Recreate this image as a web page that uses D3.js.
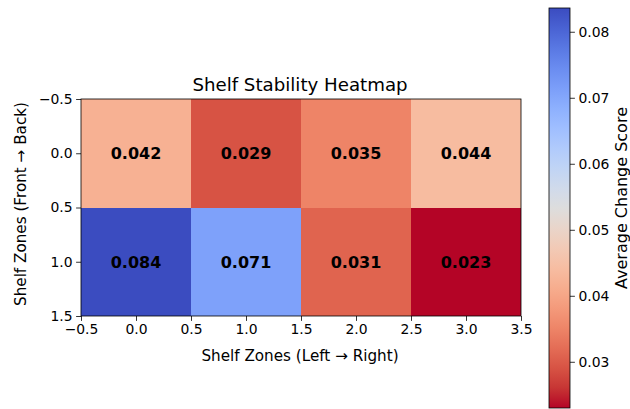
<!DOCTYPE html>
<html>
<head>
<meta charset="utf-8">
<script src="https://cdn.jsdelivr.net/npm/d3@7"></script>
<style>
  body { margin: 0; background: #fff; }
  text { font-family: "DejaVu Sans", sans-serif; fill: #000; }
</style>
</head>
<body>
<div id="chart"></div>
<script>
// Grid values, row by row (front row first).
const rows = [0, 1];
const cols = [0, 1, 2, 3];
const values = [
  [0.042, 0.029, 0.035, 0.044],
  [0.0836, 0.071, 0.031, 0.023]
];
const xTicks = [-0.5, 0.0, 0.5, 1.0, 1.5, 2.0, 2.5, 3.0, 3.5];
const yTicks = [-0.5, 0.0, 0.5, 1.0, 1.5];
const cbTicks = [0.03, 0.04, 0.05, 0.06, 0.07, 0.08];

// matplotlib coolwarm, sampled at 33 points.
const coolwarm = [
  [59,76,192],[68,90,204],[77,104,215],[87,117,225],[98,130,234],[108,142,241],
  [119,154,247],[130,165,251],[141,176,254],[152,185,255],[163,194,255],[174,201,253],
  [184,208,249],[194,213,244],[204,217,238],[213,219,230],[221,221,221],[229,216,209],
  [236,211,197],[241,204,184],[245,196,172],[247,187,159],[247,177,147],[247,166,134],
  [244,154,123],[241,141,111],[236,127,99],[229,112,88],[222,96,77],[213,80,66],
  [203,62,56],[192,40,47],[180,4,38]
].map(c => d3.rgb(c[0], c[1], c[2]));
const coolwarmInterp = d3.piecewise(d3.interpolateRgb, coolwarm);

const width = 630;
const height = 409;

const svg = d3.select('#chart')
  .append('svg')
  .attr('width', width)
  .attr('height', height);

// Heatmap area.
const x = d3.scaleLinear().domain([-0.5, 3.5]).range([81, 521]);
const y = d3.scaleLinear().domain([-0.5, 1.5]).range([99, 316]);

const flat = [].concat(...values);
const vmin = d3.min(flat);
const vmax = d3.max(flat);
// Reversed coolwarm: high values blue.
const color = v => coolwarmInterp(1 - (v - vmin) / (vmax - vmin));

const cells = [];
rows.forEach(r => cols.forEach(c => cells.push({ r, c, v: values[r][c] })));

svg.append('g')
  .selectAll('rect')
  .data(cells)
  .enter()
  .append('rect')
  .attr('x', d => x(d.c - 0.5))
  .attr('y', d => y(d.r - 0.5))
  .attr('width', d => x(d.c + 0.5) - x(d.c - 0.5))
  .attr('height', d => y(d.r + 0.5) - y(d.r - 0.5))
  .attr('fill', d => color(d.v))
  .attr('shape-rendering', 'crispEdges');

svg.append('g')
  .selectAll('text')
  .data(cells)
  .enter()
  .append('text')
  .attr('x', d => x(d.c))
  .attr('y', d => y(d.r))
  .attr('dy', '0.36em')
  .attr('text-anchor', 'middle')
  .style('font-size', '16px')
  .style('font-weight', 'bold')
  .text(d => d3.format('.3f')(d.v));

// Axes.
const xAxis = svg.append('g')
  .attr('transform', 'translate(0,316)')
  .call(d3.axisBottom(x).tickValues(xTicks).tickFormat(d3.format('.1f'))
    .tickSizeOuter(0).tickSize(4.9).tickPadding(3.5));
const yAxis = svg.append('g')
  .attr('transform', 'translate(81,0)')
  .call(d3.axisLeft(y).tickValues(yTicks).tickFormat(d3.format('.1f'))
    .tickSizeOuter(0).tickSize(4.9).tickPadding(3.5));
[xAxis, yAxis].forEach(a => {
  a.select('.domain').remove();
  a.selectAll('text').style('font-size', '13.9px').style('font-family', '"DejaVu Sans", sans-serif').attr('fill', '#000');
  a.selectAll('line').attr('stroke', '#000').attr('stroke-width', 0.8);
});

// Frame.
svg.append('rect')
  .attr('x', 81).attr('y', 99)
  .attr('width', 440).attr('height', 217)
  .attr('fill', 'none')
  .attr('stroke', '#000')
  .attr('stroke-width', 0.8);

svg.append('text')
  .attr('x', 300).attr('y', 91)
  .attr('text-anchor', 'middle')
  .style('font-size', '18.2px')
  .text('Shelf Stability Heatmap');

svg.append('text')
  .attr('x', 300).attr('y', 361)
  .attr('text-anchor', 'middle')
  .style('font-size', '15.2px')
  .text('Shelf Zones (Left \u2192 Right)');

svg.append('text')
  .attr('transform', 'translate(26,204) rotate(-90)')
  .attr('text-anchor', 'middle')
  .style('font-size', '15.2px')
  .text('Shelf Zones (Front \u2192 Back)');

// Colorbar.
const cb = d3.scaleLinear().domain([vmin, vmax]).range([408, 8]);
const defs = svg.append('defs');
const grad = defs.append('linearGradient')
  .attr('id', 'cbgrad')
  .attr('x1', 0).attr('y1', 1).attr('x2', 0).attr('y2', 0);
d3.range(0, 1.0001, 0.05).forEach(t => {
  grad.append('stop')
    .attr('offset', t)
    .attr('stop-color', coolwarmInterp(1 - t));
});
svg.append('rect')
  .attr('x', 549).attr('y', cb(vmax))
  .attr('width', 21).attr('height', cb(vmin) - cb(vmax))
  .attr('fill', 'url(#cbgrad)')
  .attr('stroke', '#000')
  .attr('stroke-width', 0.8);

const cbAxis = svg.append('g')
  .attr('transform', 'translate(570,0)')
  .call(d3.axisRight(cb).tickValues(cbTicks).tickFormat(d3.format('.2f'))
    .tickSizeOuter(0).tickSize(4.9).tickPadding(3.5));
cbAxis.select('.domain').remove();
cbAxis.selectAll('text').style('font-size', '13.9px').style('font-family', '"DejaVu Sans", sans-serif').attr('fill', '#000');
cbAxis.selectAll('line').attr('stroke', '#000').attr('stroke-width', 0.8);

svg.append('text')
  .attr('transform', 'translate(627,198) rotate(-90)')
  .attr('text-anchor', 'middle')
  .style('font-size', '16px')
  .text('Average Change Score');
</script>
</body>
</html>
